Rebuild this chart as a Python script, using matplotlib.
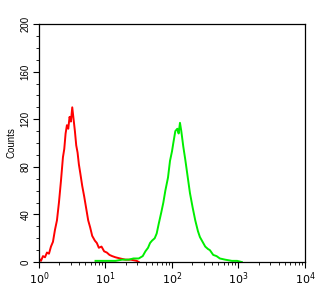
import numpy as np
import matplotlib
matplotlib.use('Agg')
import matplotlib.pyplot as plt
from matplotlib.ticker import FixedLocator, MultipleLocator, LogLocator, NullFormatter

plt.rcParams['font.family'] = ['Liberation Sans', 'DejaVu Sans']

# red histogram: log10 intensity, counts
red_log = [0.0, 0.03, 0.06, 0.09, 0.12, 0.15, 0.18, 0.21, 0.24, 0.27, 0.30, 0.33,
           0.36, 0.38, 0.40, 0.42, 0.44, 0.46, 0.48, 0.50, 0.52, 0.54, 0.56, 0.58,
           0.60, 0.62, 0.65, 0.68, 0.71, 0.74, 0.77, 0.80, 0.84, 0.87, 0.90, 0.94,
           0.98, 1.02, 1.06, 1.10, 1.15, 1.22, 1.30, 1.38, 1.47, 1.50]
red_cnt = [3, 1, 5, 4, 8, 7, 13, 17, 27, 35, 50, 68,
           88, 95, 108, 115, 112, 122, 118, 130, 120, 110, 98, 92,
           82, 75, 64, 55, 45, 35, 29, 22, 18, 16, 12, 13,
           9, 8, 6, 5, 4, 3, 2, 2, 1, 0]

# green histogram
green_log = [0.85, 0.95, 1.05, 1.15, 1.25, 1.35, 1.42, 1.50, 1.56, 1.60, 1.64, 1.67,
             1.70, 1.74, 1.77, 1.80, 1.84, 1.87, 1.90, 1.94, 1.97, 2.00, 2.02, 2.05,
             2.08, 2.10, 2.12, 2.14, 2.17, 2.20, 2.23, 2.27, 2.31, 2.35, 2.39, 2.42,
             2.46, 2.50, 2.54, 2.57, 2.62, 2.67, 2.72, 2.80, 2.90, 2.98, 3.05]
green_cnt = [1, 1, 1, 1, 2, 2, 3, 3, 5, 9, 12, 16,
             18, 20, 24, 32, 42, 50, 60, 71, 85, 93, 100, 110,
             112, 108, 117, 110, 97, 86, 74, 58, 46, 35, 26, 21,
             17, 13, 11, 10, 6, 5, 3, 2, 1, 1, 0]

yticks = [0, 40, 80, 120, 160, 200]
xticks = [1, 10, 100, 1000, 10000]
xlabels = ['$10^0$', '$10^1$', '$10^2$', '$10^3$', '$10^4$']

fig = plt.figure(figsize=(3.35, 3.04), dpi=100)
ax = fig.add_axes([0.1164, 0.138, 0.794, 0.783])

ax.plot(10 ** np.array(red_log), red_cnt, color='#ff0000', lw=1.4)
ax.plot(10 ** np.array(green_log), green_cnt, color='#00ee00', lw=1.4)

ax.set_xscale('log')
ax.set_xlim(1, 10000)
ax.set_ylim(0, 200)
ax.xaxis.set_major_locator(FixedLocator(xticks))
ax.set_xticklabels(xlabels, fontsize=8)
ax.xaxis.set_minor_locator(LogLocator(base=10, subs=np.arange(2, 10)))
ax.xaxis.set_minor_formatter(NullFormatter())
ax.set_yticks(yticks)
ax.set_yticklabels([str(v) for v in yticks], fontsize=7, rotation=90, va='center')
ax.yaxis.set_minor_locator(MultipleLocator(10))
ax.tick_params(which='major', length=4, width=0.8, direction='out', pad=2)
ax.tick_params(which='minor', length=2, width=0.6, direction='out')
ax.set_ylabel('Counts', fontsize=7, labelpad=3)
for s in ax.spines.values():
    s.set_linewidth(0.9)

plt.savefig('out.png', dpi=100)
